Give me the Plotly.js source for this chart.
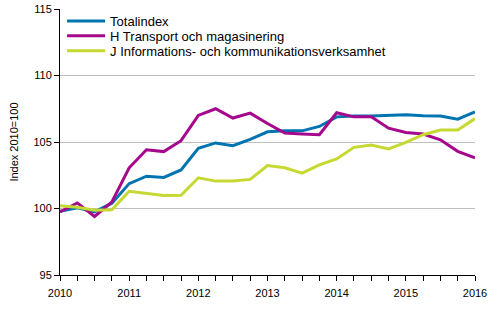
<!DOCTYPE html>
<html>
<head>
<meta charset="utf-8">
<script src="https://cdn.plot.ly/plotly-3.0.1.min.js"></script>
<style>html,body{margin:0;padding:0;background:#fff}#chart{width:500px;height:330px}</style>
</head>
<body>
<div id="chart"></div>
<script>
var quarters = ["2010Q1","2010Q2","2010Q3","2010Q4","2011Q1","2011Q2","2011Q3","2011Q4","2012Q1","2012Q2","2012Q3","2012Q4","2013Q1","2013Q2","2013Q3","2013Q4","2014Q1","2014Q2","2014Q3","2014Q4","2015Q1","2015Q2","2015Q3","2015Q4","2016Q1"];
var seriesNames = ["Totalindex","H Transport och magasinering","J Informations- och kommunikationsverksamhet"];
var totalindex = [99.8,100.05,99.75,100.4,101.87,102.43,102.34,102.9,104.52,104.93,104.72,105.2,105.77,105.84,105.84,106.17,106.89,106.96,106.96,106.98,107.04,106.98,106.96,106.72,107.26];
var transport = [99.75,100.42,99.4,100.5,103.06,104.42,104.28,105.1,107.0,107.5,106.8,107.17,106.39,105.67,105.6,105.55,107.2,106.89,106.89,106.04,105.72,105.6,105.17,104.3,103.8];
var information = [100.2,100.1,99.87,99.9,101.29,101.12,100.97,101.0,102.31,102.06,102.06,102.19,103.23,103.06,102.66,103.28,103.73,104.6,104.77,104.48,104.97,105.55,105.9,105.9,106.76];
var yearLabels = ["2010","2011","2012","2013","2014","2015","2016"];
var colors = ["#0074b0","#a5078d","#c5d932"];

function qToX(q){ return parseInt(q.slice(0,4),10) + (parseInt(q.slice(5),10)-1)/4; }
var xs = quarters.map(qToX);

var tickvals = [], ticktext = [];
for (var i = 0; i <= 24; i++) {
  var v = 2010 + i/4;
  tickvals.push(v);
  ticktext.push(i % 4 === 0 ? yearLabels[i/4] : "");
}

var legendIds = ["legend","legend2","legend3"];
var data = [totalindex, transport, information].map(function(arr, k){
  return {x: xs, y: arr, type: "scatter", mode: "lines", name: seriesNames[k],
          legend: legendIds[k], line: {color: colors[k], width: 3}};
});

function legendAt(yPaper){
  return {x: 0.005, y: yPaper, xanchor: "left", yanchor: "middle", bgcolor: "rgba(0,0,0,0)",
          font: {size: 13, color: "#000"}, itemwidth: 38};
}

var layout = {
  width: 500, height: 330,
  margin: {l: 60, r: 25, t: 6, b: 55},
  paper_bgcolor: "#fff", plot_bgcolor: "#fff",
  font: {family: "Liberation Sans, Arial, sans-serif", size: 11, color: "#000"},
  showlegend: true,
  legend: legendAt(0.955),
  legend2: legendAt(0.899),
  legend3: legendAt(0.843),
  xaxis: {range: [2010, 2016], tickmode: "array", tickvals: tickvals, ticktext: ticktext,
          ticks: "outside", ticklen: 5, tickcolor: "#000", showgrid: false, zeroline: false,
          showline: true, linecolor: "#000", linewidth: 1, tickfont: {size: 11},
          ticklabelstandoff: 3, fixedrange: true},
  yaxis: {range: [95, 115], tickvals: [95,100,105,110,115], ticks: "outside", ticklen: 5,
          tickcolor: "#000", showgrid: true, gridcolor: "#c0c0c0", gridwidth: 1, zeroline: false,
          showline: true, linecolor: "#000", linewidth: 1, tickfont: {size: 11},
          ticklabeloverflow: "allow",
          title: {text: "Index 2010=100", font: {size: 11}, standoff: 12}, fixedrange: true}
};

Plotly.newPlot("chart", data, layout, {staticPlot: true, displayModeBar: false});
</script>
</body>
</html>
